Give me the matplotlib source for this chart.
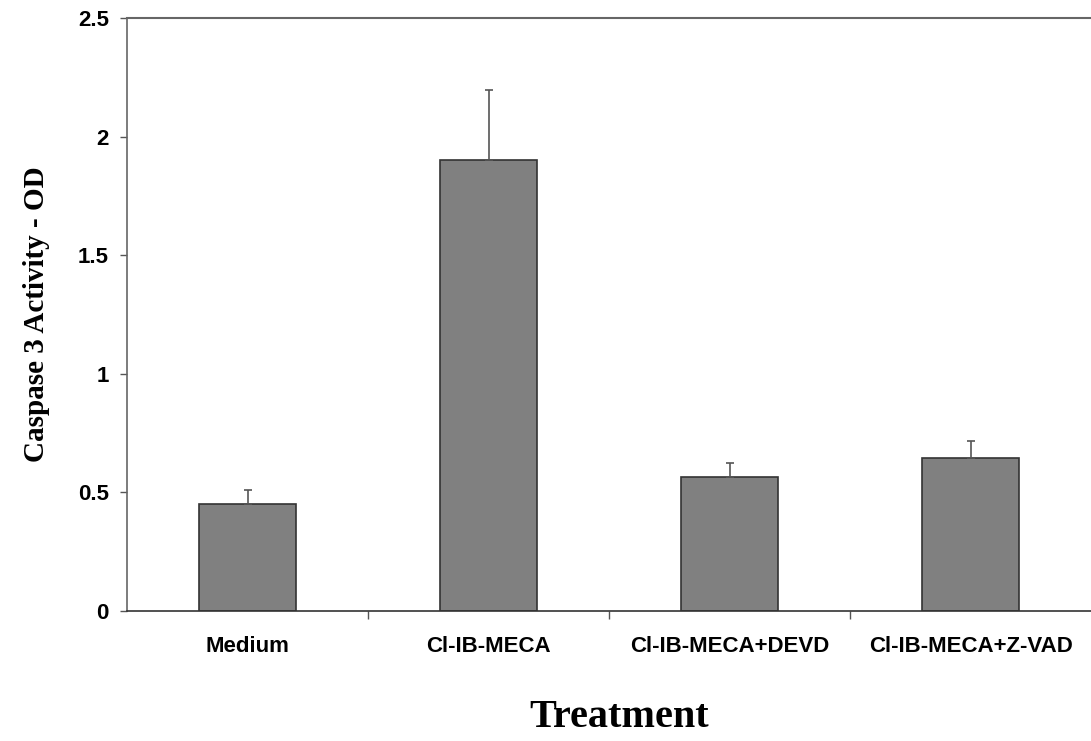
import matplotlib
matplotlib.use("Agg")
import matplotlib.pyplot as plt
import numpy as np

# data
treatments = ["Medium", "Cl-IB-MECA", "Cl-IB-MECA+DEVD", "Cl-IB-MECA+Z-VAD"]
caspase_od = [0.45, 1.90, 0.563, 0.643]
sem = [0.062, 0.295, 0.06, 0.075]
yticks = [0, 0.5, 1, 1.5, 2, 2.5]
ytick_labels = ["0", "0.5", "1", "1.5", "2", "2.5"]

fig = plt.figure(figsize=(10.91, 7.41), dpi=100)
ax = fig.add_axes([127 / 1091, 130 / 741, 964 / 1091, 593 / 741])

x = np.arange(len(treatments))
ax.bar(x, caspase_od, width=0.4, color="#808080", edgecolor="#333333",
       linewidth=1.2, zorder=2)
ax.errorbar(x, caspase_od, yerr=[np.zeros(len(sem)), sem], fmt="none",
            ecolor="#555555", elinewidth=1.2, capsize=3, capthick=1.2, zorder=3)

ax.set_xlim(-0.5, len(treatments) - 0.5)
ax.set_ylim(0, 2.5)

ax.set_yticks(yticks)
ax.set_yticklabels(ytick_labels, fontfamily="Liberation Sans",
                   fontweight="bold", fontsize=16)
ax.tick_params(axis="y", length=5, width=1, color="#555555", pad=8)

# category labels centered, ticks between categories
ax.set_xticks(x)
ax.set_xticklabels(treatments, fontfamily="Liberation Sans",
                   fontweight="bold", fontsize=16)
ax.tick_params(axis="x", length=0, pad=18)
ax.set_xticks(np.arange(0.5, len(treatments) - 0.5, 1), minor=True)
ax.tick_params(axis="x", which="minor", length=6, width=1, color="#555555")

ax.spines["right"].set_visible(False)
ax.spines["top"].set_color("#666666")
ax.spines["top"].set_linewidth(1.5)
ax.spines["left"].set_color("#666666")
ax.spines["left"].set_linewidth(1.2)
ax.spines["bottom"].set_color("#333333")
ax.spines["bottom"].set_linewidth(1.2)

ax.set_ylabel("Caspase 3 Activity - OD", fontfamily="Liberation Serif",
              fontweight="bold", fontsize=21, labelpad=20)
ax.set_xlabel("Treatment", fontfamily="Liberation Serif",
              fontweight="bold", fontsize=29, labelpad=30)
ax.xaxis.label.set_x(0.511)

fig.savefig("out.png", dpi=100)
